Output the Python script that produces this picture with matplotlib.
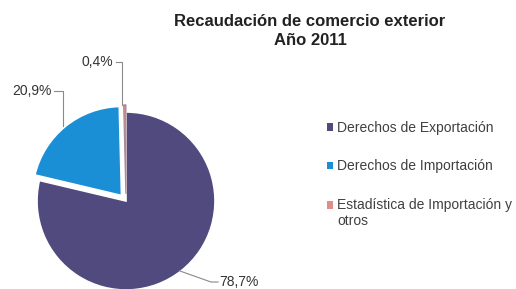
import numpy as np
import matplotlib
matplotlib.use("Agg")
import matplotlib.pyplot as plt
from matplotlib.patches import Patch, Rectangle
from matplotlib.legend_handler import HandlerPatch

plt.rcParams['font.family'] = ['Liberation Sans', 'DejaVu Sans']

title = "Recaudación de comercio exterior\nAño 2011"
categories = ["Derechos de Exportación", "Derechos de Importación",
              "Estadística de Importación y\notros"]
values = [78.7, 20.9, 0.4]
labels = ["78,7%", "20,9%", "0,4%"]
colors = ["#504a7e", "#1b8fd6", "#e08c8c"]
explode = [0.0, 0.08, 0.08]

W, H = 516, 289
fig = plt.figure(figsize=(W / 100, H / 100), dpi=100)
fig.patch.set_facecolor("white")

# pie axes: center (126, 201) px, radius 89 px
cx, cy, R = 126, 201, 89
half = 100
ax = fig.add_axes([(cx - half) / W, (H - cy - half) / H, 2 * half / W, 2 * half / H])
lim = half / R

wedges, _ = ax.pie(values, colors=colors, explode=explode, startangle=90,
                   counterclock=False, radius=1.0,
                   wedgeprops=dict(edgecolor="white", linewidth=1.2))
wedges[2].set_edgecolor("#a98a98")
wedges[2].set_linewidth(0.9)
ax.set_xlim(-lim, lim)
ax.set_ylim(-lim, lim)
ax.set_aspect("equal")
ax.axis("off")

def px2d(px, py):
    return ((px - cx) / R, (cy - py) / R)

lab_pos = {0: (239, 282), 1: (32, 91), 2: (97, 62)}
for i, w in enumerate(wedges):
    mid = np.deg2rad((w.theta1 + w.theta2) / 2)
    ex = explode[i]
    ax_ = (1 + ex) * np.cos(mid)
    ay_ = (1 + ex) * np.sin(mid)
    tx, ty = px2d(*lab_pos[i])
    ax.text(tx, ty, labels[i], ha="center", va="center", fontsize=10,
            color="#333333")
    if i == 0:
        tl = tx - 0.235
        xs = [ax_ - 0.02, tl - 0.08, tl]
        ys = [ay_, ty, ty]
    else:
        tr = tx + 0.25 if i == 1 else tx + 0.21
        xs = [tr, ax_ - 0.03, ax_ - 0.03]
        ys = [ty, ty, ay_]
    ax.plot(xs, ys, color="#8a8a8a", lw=0.8, clip_on=False)

fig.text(310 / W, 1 - 31 / H, title, ha="center", va="center",
         fontsize=12, fontweight="bold", color="#222222", linespacing=1.3,
         multialignment="center")


class TopHandler(HandlerPatch):
    """Square aligned with the first line of a (possibly multi-line) label."""
    def create_artists(self, legend, orig_handle, xdescent, ydescent,
                       width, height, fontsize, trans):
        n = legend_lines.get(id(orig_handle), 1)
        shift = (n - 1) * fontsize * 0.6
        p = Rectangle((-xdescent, -ydescent + shift), width, height,
                      facecolor=orig_handle.get_facecolor(), edgecolor="none",
                      transform=trans)
        return [p]


handles = [Patch(facecolor=c, edgecolor="none") for c in colors]
legend_lines = {id(h): lab.count("\n") + 1 for h, lab in zip(handles, categories)}
leg = fig.legend(handles, categories, loc="upper left",
                 bbox_to_anchor=(326.5 / W, 1 - 121 / H),
                 frameon=False, fontsize=10, handlelength=0.45,
                 handleheight=0.45, handletextpad=0.3, labelspacing=1.75,
                 borderpad=0, borderaxespad=0,
                 handler_map={Patch: TopHandler()})
for t in leg.get_texts():
    t.set_color("#404040")

fig.savefig("out.png", dpi=100, facecolor="white")
